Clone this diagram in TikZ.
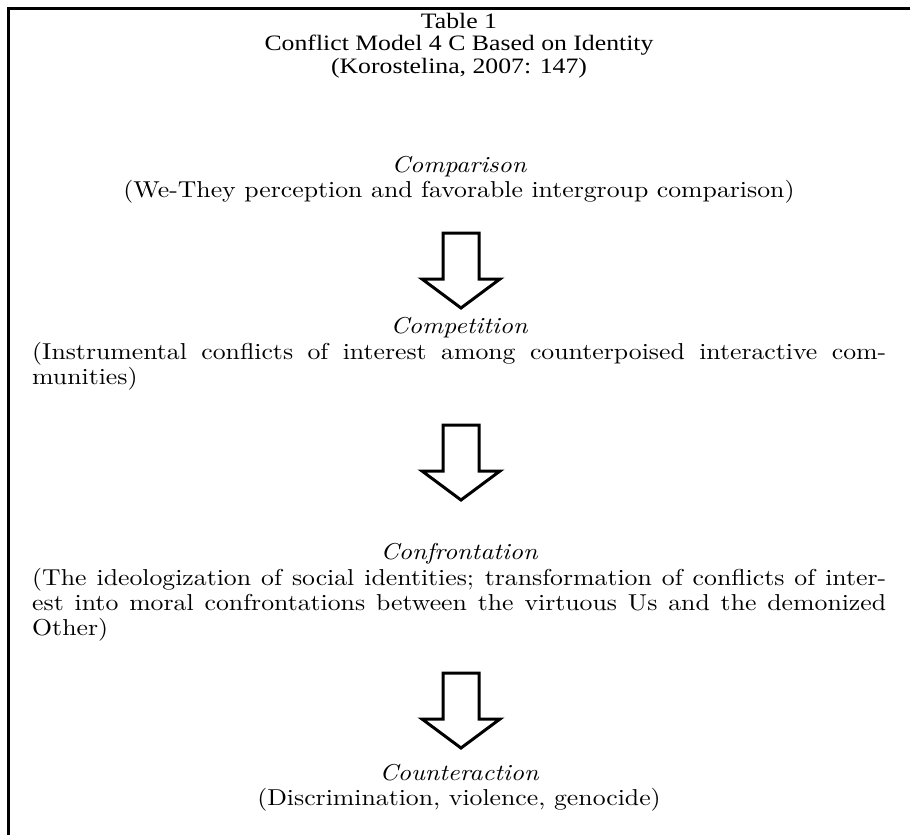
\documentclass[tikz,border=0pt]{standalone}
\usepackage{fontspec}
\newfontfamily\titlefont{Liberation Serif}[FakeStretch=1.17]
\newfontfamily\bodyfont{lmroman10}[Extension=.otf, UprightFont=*-regular, ItalicFont=*-italic, FakeStretch=1.12]
\tikzset{
  ttl/.style={inner sep=0pt, anchor=base, font=\titlefont\fontsize{22}{22.5}\selectfont},
  lbl/.style={inner sep=0pt, anchor=base, font=\bodyfont\itshape\fontsize{23}{25}\selectfont},
  txt/.style={inner sep=0pt, anchor=base, font=\bodyfont\fontsize{23}{25}\selectfont},
  jline/.style={inner sep=0pt, anchor=base west, font=\bodyfont\fontsize{23}{25}\selectfont},
  frameline/.style={line width=3pt, line join=miter},
  blockarrow/.pic={
    \draw[line width=3pt, line join=miter, fill=white]
      (-18,0) -- (18,0) -- (18,46) -- (39,46) -- (0,75) -- (-39,46) -- (-18,46) -- cycle;
  }
}
\begin{document}
\begin{tikzpicture}[x=1pt,y=-1pt]
  \useasboundingbox (0,0) rectangle (910,835);
  \fill[white] (0,0) rectangle (910,835);
  % frame (top and left sides)
  \draw[frameline] (8,835) -- (8,8) -- (910,8);
  % title
  \node[ttl] (t1) at (459,28) {Table 1};
  \node[ttl] (t2) at (459,50.5) {Conflict Model 4 C Based on Identity};
  \node[ttl] (t3) at (459,73) {(Korostelina, 2007: 147)};
  % stage 1
  \node[lbl] (cmp) at (459,172) {Comparison};
  \node[txt] (cmpd) at (459,197) {(We-They perception and favorable intergroup comparison)};
  \pic at (461,233) {blockarrow};
  % stage 2
  \node[lbl] (cpt) at (459,333) {Competition};
  \node[jline] (cptd1) at (32,359) {\makebox[854pt][s]{(Instrumental conflicts of interest among counterpoised interactive com-}};
  \node[jline] (cptd2) at (32,384) {munities)};
  \pic at (461,425) {blockarrow};
  % stage 3
  \node[lbl] (cft) at (459,559) {Confrontation};
  \node[jline] (cftd1) at (32,585) {\makebox[854pt][s]{(The ideologization of social identities; transformation of conflicts of inter-}};
  \node[jline] (cftd2) at (32,610) {\makebox[854pt][s]{est into moral confrontations between the virtuous Us and the demonized}};
  \node[jline] (cftd3) at (32,635) {Other)};
  \pic at (461,673) {blockarrow};
  % stage 4
  \node[lbl] (cnt) at (459,780) {Counteraction};
  \node[txt] (cntd) at (459,805) {(Discrimination, violence, genocide)};
\end{tikzpicture}
\end{document}
